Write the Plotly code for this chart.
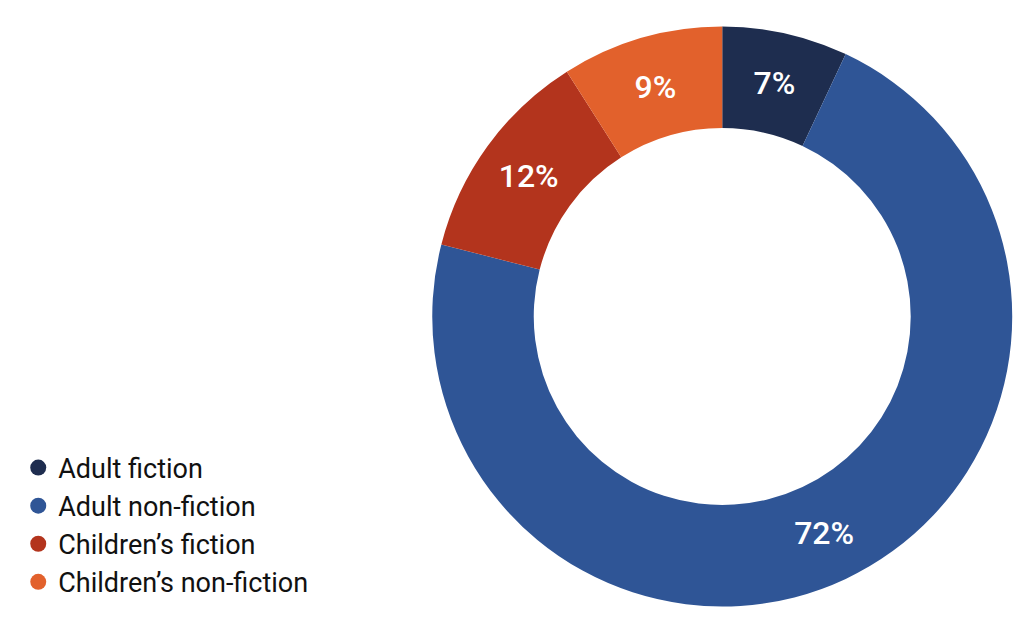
import plotly.graph_objects as go

labels = ["Adult fiction", "Adult non-fiction", "Children\u2019s fiction", "Children\u2019s non-fiction"]
values = [7, 72, 12, 9]
colors = ["#1e2d4f", "#2f5596", "#b3341d", "#e2612c"]

fig = go.Figure()
fig.add_trace(go.Pie(
    labels=labels, values=values, hole=0.65, sort=False, direction="clockwise",
    rotation=0, marker=dict(colors=colors, line=dict(width=0)),
    texttemplate="%{value}%", textposition="inside", insidetextorientation="horizontal",
    textfont=dict(color="white", size=32, family="Roboto", weight=500),
    showlegend=False, hoverinfo="label+percent",
    domain=dict(x=[0.41, 0.985], y=[0.03, 0.97]),
))
for lab, col in zip(labels, colors):
    fig.add_trace(go.Scatter(x=[None], y=[None], mode="markers", name=lab,
                             marker=dict(symbol="circle", size=30, color=col)))

fig.update_layout(
    width=1024, height=617, paper_bgcolor="white", plot_bgcolor="white",
    margin=dict(l=0, r=0, t=0, b=0),
    xaxis=dict(visible=False, domain=[0, 0.4]), yaxis=dict(visible=False),
    legend=dict(x=0.01, y=0.03, xanchor="left", yanchor="bottom",
                font=dict(family="Roboto", size=27, color="#111"),
                itemsizing="trace", tracegroupgap=0),
    font=dict(family="Roboto"),
)
fig.write_html("out.html")
